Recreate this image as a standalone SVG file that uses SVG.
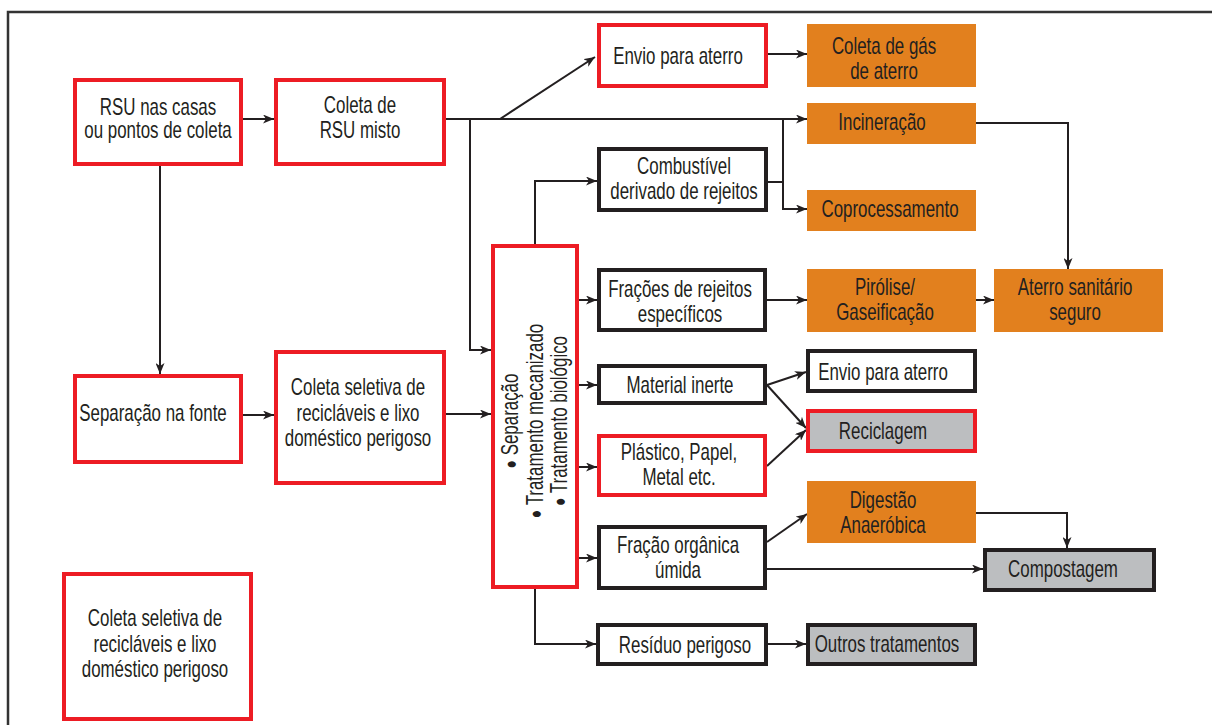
<svg xmlns="http://www.w3.org/2000/svg" width="1212" height="725" viewBox="0 0 1212 725">
<style>
.bg{fill:#ffffff}
.frame{fill:none;stroke:#333333;stroke-width:2.5}
.red{fill:#ffffff;stroke:#ed1c24;stroke-width:4}
.blk{fill:#ffffff;stroke:#231f20;stroke-width:4}
.org{fill:#e2801e;stroke:none}
.gryr{fill:#bcbec0;stroke:#ed1c24;stroke-width:4}
.gryb{fill:#bcbec0;stroke:#231f20;stroke-width:4}
text{font-family:"Liberation Sans",Arial,sans-serif;font-size:23px;fill:#231f20;text-anchor:middle}
.bul{font-size:19px}
.c{fill:none;stroke:#231f20;stroke-width:2}
.a{marker-end:url(#ah)}
</style>
<defs>
<marker id="ah" markerWidth="11" markerHeight="9" refX="11" refY="4.5" orient="auto" markerUnits="userSpaceOnUse">
<path d="M0,0 L11,4.5 L0,9 L3,4.5 Z" fill="#231f20"/>
</marker>
</defs>
<rect class="bg" x="0" y="0" width="1212" height="725"/>
<path class="frame" d="M8,725 V12 H1212"/>

<g id="connectors">
<path class="c a" d="M243,119 H274"/>
<path class="c a" d="M446,119 H807"/>
<path class="c a" d="M500,119 L595,57"/>
<path class="c a" d="M768,54 H807"/>
<path class="c a" d="M470,119 V350 H491"/>
<path class="c a" d="M535,244 V181 H597"/>
<path class="c" d="M768,182 H783"/>
<path class="c a" d="M783,119 V209 H807"/>
<path class="c a" d="M976,123 H1068 V269"/>
<path class="c a" d="M160,166 V374"/>
<path class="c a" d="M243,415 H274"/>
<path class="c a" d="M446,414 H491"/>
<path class="c a" d="M579,300 H597"/>
<path class="c a" d="M579,385 H597"/>
<path class="c a" d="M579,467 H597"/>
<path class="c a" d="M579,558 H597"/>
<path class="c a" d="M767,300 H807"/>
<path class="c a" d="M976,300 H994"/>
<path class="c a" d="M767,385 L806,372"/>
<path class="c a" d="M767,385 L806,428"/>
<path class="c a" d="M767,466 L806,430"/>
<path class="c a" d="M767,542 L807,514"/>
<path class="c a" d="M767,569 H983"/>
<path class="c a" d="M976,513 H1067 V548"/>
<path class="c a" d="M535,589 V644 H596"/>
<path class="c a" d="M768,644 H806"/>
</g>

<g id="n-rsu-casas"><rect class="red" x="75" y="80" width="166" height="84"/>
<text transform="translate(158,115) scale(.735 1)"><tspan x="0">RSU nas casas</tspan><tspan x="0" dy="23">ou pontos de coleta</tspan></text></g>

<g id="n-coleta-misto"><rect class="red" x="276" y="80" width="168" height="84"/>
<text transform="translate(360,113) scale(.735 1)"><tspan x="0">Coleta de</tspan><tspan x="0" dy="25">RSU misto</tspan></text></g>

<g id="n-envio-1"><rect class="red" x="599" y="25" width="167" height="61"/>
<text transform="translate(678,64) scale(.735 1)">Envio para aterro</text></g>

<g id="n-coleta-gas"><rect class="org" x="807" y="24" width="169" height="63"/>
<text transform="translate(884,54) scale(.735 1)"><tspan x="0">Coleta de gás</tspan><tspan x="0" dy="25">de aterro</tspan></text></g>

<g id="n-incineracao"><rect class="org" x="807" y="103" width="169" height="41"/>
<text transform="translate(882,130) scale(.735 1)">Incineração</text></g>

<g id="n-combustivel"><rect class="blk" x="599" y="149" width="167" height="61"/>
<text transform="translate(684,174) scale(.735 1)"><tspan x="0">Combustível</tspan><tspan x="0" dy="25">derivado de rejeitos</tspan></text></g>

<g id="n-coprocessamento"><rect class="org" x="807" y="190" width="169" height="41"/>
<text transform="translate(890,217) scale(.735 1)">Coprocessamento</text></g>

<g id="n-separacao"><rect class="red" x="493" y="246" width="84" height="341"/>
<text transform="translate(518,421) rotate(-90) scale(.735 1)"><tspan class="bul" dy="-1">●</tspan><tspan dy="1"> Separação</tspan></text>
<text transform="translate(543,421) rotate(-90) scale(.735 1)"><tspan class="bul" dy="-1">●</tspan><tspan dy="1"> Tratamento mecanizado</tspan></text>
<text transform="translate(567,421) rotate(-90) scale(.735 1)"><tspan class="bul" dy="-1">●</tspan><tspan dy="1"> Tratamento biológico</tspan></text></g>

<g id="n-fracoes"><rect class="blk" x="599" y="270" width="166" height="60"/>
<text transform="translate(680,297) scale(.735 1)"><tspan x="0">Frações de rejeitos</tspan><tspan x="0" dy="25">específicos</tspan></text></g>

<g id="n-pirolise"><rect class="org" x="807" y="269" width="169" height="63"/>
<text transform="translate(885,295) scale(.735 1)"><tspan x="0">Pirólise/</tspan><tspan x="0" dy="25">Gaseificação</tspan></text></g>

<g id="n-aterro-sanitario"><rect class="org" x="994" y="269" width="169" height="63"/>
<text transform="translate(1075,295) scale(.735 1)"><tspan x="0">Aterro sanitário</tspan><tspan x="0" dy="25">seguro</tspan></text></g>

<g id="n-material-inerte"><rect class="blk" x="599" y="366" width="166" height="37"/>
<text transform="translate(680,393) scale(.735 1)">Material inerte</text></g>

<g id="n-envio-2"><rect class="blk" x="808" y="351" width="167" height="40"/>
<text transform="translate(883,380) scale(.735 1)">Envio para aterro</text></g>

<g id="n-reciclagem"><rect class="gryr" x="808" y="411" width="167" height="40"/>
<text transform="translate(883,439) scale(.735 1)">Reciclagem</text></g>

<g id="n-plastico"><rect class="red" x="599" y="436" width="166" height="59"/>
<text transform="translate(679,460) scale(.735 1)"><tspan x="0">Plástico, Papel,</tspan><tspan x="0" dy="25">Metal etc.</tspan></text></g>

<g id="n-digestao"><rect class="org" x="807" y="481" width="169" height="62"/>
<text transform="translate(883,508) scale(.735 1)"><tspan x="0">Digestão</tspan><tspan x="0" dy="25">Anaeróbica</tspan></text></g>

<g id="n-fracao-organica"><rect class="blk" x="599" y="527" width="166" height="61"/>
<text transform="translate(678,553) scale(.735 1)"><tspan x="0">Fração orgânica</tspan><tspan x="0" dy="25">úmida</tspan></text></g>

<g id="n-compostagem"><rect class="gryb" x="985" y="550" width="169" height="40"/>
<text transform="translate(1063,577) scale(.735 1)">Compostagem</text></g>

<g id="n-residuo"><rect class="blk" x="598" y="625" width="168" height="39"/>
<text transform="translate(685,653) scale(.735 1)">Resíduo perigoso</text></g>

<g id="n-outros"><rect class="gryb" x="808" y="625" width="167" height="39"/>
<text transform="translate(887,652) scale(.735 1)">Outros tratamentos</text></g>

<g id="n-separacao-fonte"><rect class="red" x="75" y="376" width="166" height="86"/>
<text transform="translate(153,421) scale(.735 1)">Separação na fonte</text></g>

<g id="n-coleta-seletiva"><rect class="red" x="276" y="352" width="168" height="131"/>
<text transform="translate(358,395) scale(.735 1)"><tspan x="0">Coleta seletiva de</tspan><tspan x="0" dy="26">recicláveis e lixo</tspan><tspan x="0" dy="25">doméstico perigoso</tspan></text></g>

<g id="n-coleta-seletiva-legenda"><rect class="red" x="64" y="574" width="187" height="145"/>
<text transform="translate(155,626) scale(.735 1)"><tspan x="0">Coleta seletiva de</tspan><tspan x="0" dy="26">recicláveis e lixo</tspan><tspan x="0" dy="25">doméstico perigoso</tspan></text></g>
</svg>
